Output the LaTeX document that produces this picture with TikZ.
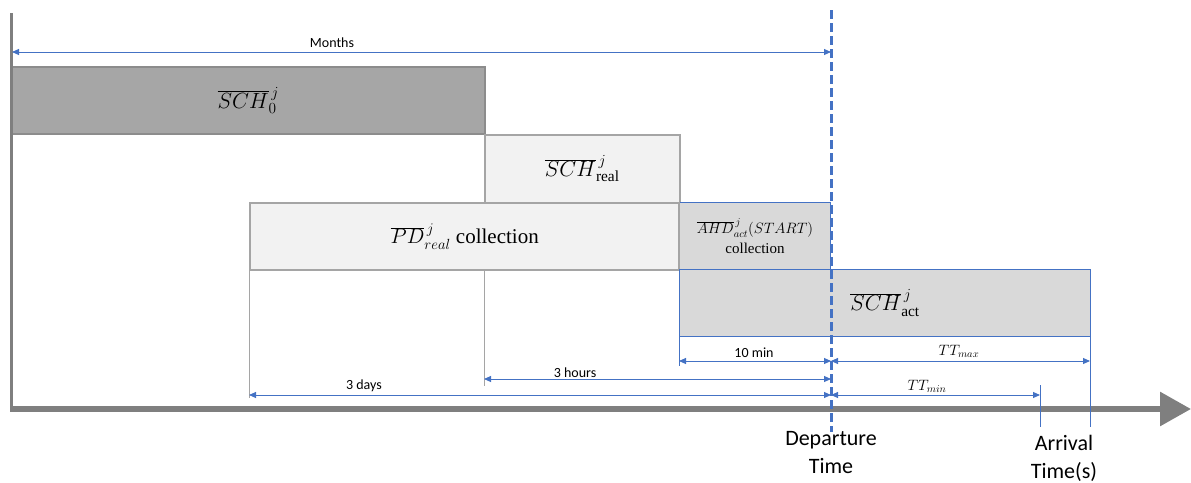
\RequirePackage{fix-cm}
\documentclass[tikz,border=0pt]{standalone}
\usepackage{fontspec}
\setmainfont{Liberation Serif}
\newfontfamily\lab{Carlito}
\usetikzlibrary{arrows.meta}
\definecolor{axisgray}{HTML}{7F7F7F}
\definecolor{dkfill}{HTML}{A6A6A6}
\definecolor{dkbord}{HTML}{8C8C8C}
\definecolor{ltfill}{HTML}{F2F2F2}
\definecolor{mdfill}{HTML}{D9D9D9}
\definecolor{bord}{HTML}{A5A5A5}
\definecolor{blu}{HTML}{4472C4}
\begin{document}
\begin{tikzpicture}[x=1pt,y=-1pt,
  box/.style={rectangle,inner sep=0pt,anchor=north west,line width=1.5pt,align=center},
  guide/.style={draw=bord,line width=1pt},
  bguide/.style={draw=blu,line width=1pt},
  dim/.style={draw=blu,line width=0.9pt,{Triangle[length=7pt,width=6pt]}-{Triangle[length=7pt,width=6pt]}},
  small/.style={font=\lab\fontsize{14}{16}\selectfont,inner sep=0pt},
  big/.style={font=\lab\fontsize{22}{28}\selectfont,align=center,inner sep=0pt}]
\useasboundingbox (0,0) rectangle (1191,482);
% boxes
\node[box,draw=dkbord,fill=dkfill,minimum width=473pt,minimum height=67pt] (sch0) at (11,66)
  {\fontsize{22}{26}\selectfont $\overline{SCH}^{\,j}_{0}$};
\node[box,draw=bord,fill=ltfill,minimum width=195pt,minimum height=68pt] (schreal) at (484,134)
  {\fontsize{22}{26}\selectfont $\overline{SCH}^{\,j}_{\mathrm{real}}$};
\node[box,draw=bord,fill=ltfill,minimum width=430pt,minimum height=67pt] (pd) at (249,202)
  {\fontsize{21}{25}\selectfont $\overline{PD}^{\,j}_{real}$ collection};
\node[box,draw=blu,line width=1pt,fill=mdfill,minimum width=151pt,minimum height=67pt] (ahd) at (679,202)
  {\fontsize{15}{17}\selectfont $\overline{AHD}^{\,j}_{act}(START)$\\[5pt]\fontsize{15}{17}\selectfont collection};
\draw[bord,line width=1.5pt] (ahd.north west) -- (ahd.south west);
\node[box,draw=blu,line width=1pt,fill=mdfill,minimum width=411pt,minimum height=67pt] (schact) at (679,269)
  {\fontsize{22}{26}\selectfont $\overline{SCH}^{\,j}_{\mathrm{act}}$};
% coordinates
\coordinate (vtop) at (11.5,13);
\coordinate (vbot) at (11.5,412);
\coordinate (hleft) at (10,409);
\coordinate (hright) at (1191,409);
\coordinate (dtop) at (831,10);
\coordinate (dbot) at (831,432);
\coordinate (mL) at (12,52);   \coordinate (mR) at (831,52);
\coordinate (g1t) at (249,269); \coordinate (g1b) at (249,398);
\coordinate (g2t) at (484,269); \coordinate (g2b) at (484,386);
\coordinate (g3t) at (679,336); \coordinate (g3b) at (679,366);
\coordinate (g4t) at (1090,336); \coordinate (g4b) at (1090,427);
\coordinate (g5t) at (1040,385); \coordinate (g5b) at (1040,427);
\coordinate (tenL) at (679,361); \coordinate (tenR) at (831,361);
\coordinate (ttmaxR) at (1090,361);
\coordinate (hrL) at (484,379); \coordinate (hrR) at (831,379);
\coordinate (dyL) at (249,395); \coordinate (dyR) at (831,395);
\coordinate (ttminR) at (1040,395);
% axes
\draw[axisgray,line width=3pt] (vtop) -- (vbot);
\draw[axisgray,line width=6pt,-{Triangle[length=31pt,width=33pt]}] (hleft) -- (hright);
% guides
\draw[guide] (g1t) -- (g1b);
\draw[guide] (g2t) -- (g2b);
\draw[bguide] (g3t) -- (g3b);
\draw[bguide] (g4t) -- (g4b);
\draw[bguide] (g5t) -- (g5b);
% dimension arrows
\draw[dim] (mL) -- (mR);
\draw[dim] (tenL) -- (tenR);
\draw[dim] (tenR) -- (ttmaxR);
\draw[dim] (hrL) -- (hrR);
\draw[dim] (dyL) -- (dyR);
\draw[dim] (dyR) -- (ttminR);
% departure dashed line
\draw[blu,line width=3pt,dash pattern=on 9pt off 4pt] (dtop) -- (dbot);
% labels
\node[small] (months) at (332,43) {Months};
\node[small] (tenmin) at (754,353) {10 min};
\node[inner sep=0pt] (ttmax) at (959,351) {\fontsize{15}{17}\selectfont $TT_{max}$};
\node[small] (hours) at (575,373) {3 hours};
\node[small] (days) at (364,386) {3 days};
\node[inner sep=0pt] (ttmin) at (927,386) {\fontsize{15}{17}\selectfont $TT_{min}$};
\node[big] (dep) at (831,453) {Departure\\Time};
\node[big] (arr) at (1064,458) {Arrival\\Time(s)};
\end{tikzpicture}
\end{document}
